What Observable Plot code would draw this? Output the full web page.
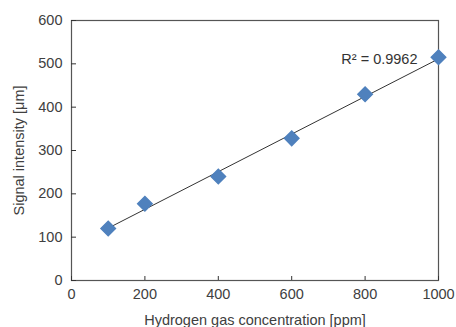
<!DOCTYPE html>
<html><head><meta charset="utf-8">
<script src="https://cdn.jsdelivr.net/npm/d3@7"></script>
<script src="https://cdn.jsdelivr.net/npm/@observablehq/plot@0.6"></script>
<style>body{margin:0;background:#fff}</style>
</head><body><div id="chart"></div>
<script>
const concentration = [100, 200, 400, 600, 800, 1000];
const signal = [120, 177, 240, 328, 430, 515];
const xTicks = [0, 200, 400, 600, 800, 1000];
const yTicks = [0, 100, 200, 300, 400, 500, 600];
const r2Label = "R² = 0.9962";

const data = concentration.map((c, i) => ({x: c, y: signal[i]}));
const last = data[data.length - 1];

const chart = Plot.plot({
  width: 456, height: 327,
  marginLeft: 71, marginRight: 18, marginTop: 20, marginBottom: 47,
  style: {fontFamily: "'Liberation Sans', Arial, sans-serif", fontSize: "14.5px", color: "#404040", background: "#fff"},
  x: {domain: [0, 1000]},
  y: {domain: [0, 600]},
  marks: [
    Plot.frame({stroke: "#555", strokeWidth: 1.2}),
    Plot.axisX({ticks: xTicks, tickFormat: d => String(d), tickSize: -4, tickPadding: 12, label: "Hydrogen gas concentration [ppm]", labelAnchor: "center", labelOffset: 44, labelArrow: "none", stroke: "#333", fontSize: 14.5}),
    Plot.axisY({ticks: yTicks, tickFormat: d => String(d), tickSize: -5, tickPadding: 14, label: "Signal intensity [μm]", labelAnchor: "center", labelOffset: 58, labelArrow: "none", stroke: "#333", fontSize: 14.5}),
    Plot.linearRegressionY(data, {x: "x", y: "y", ci: 0, stroke: "#333", strokeWidth: 1}),
    Plot.dot(data, {x: "x", y: "y", symbol: "diamond2", r: 6.5, fill: "#4F81BD", stroke: "#4F81BD"}),
    Plot.text([last], {x: "x", y: "y", text: () => r2Label, textAnchor: "end", dx: -21, dy: 2, fontSize: 14.5, fill: "#333"})
  ]
});
document.getElementById("chart").append(chart);
</script></body></html>
